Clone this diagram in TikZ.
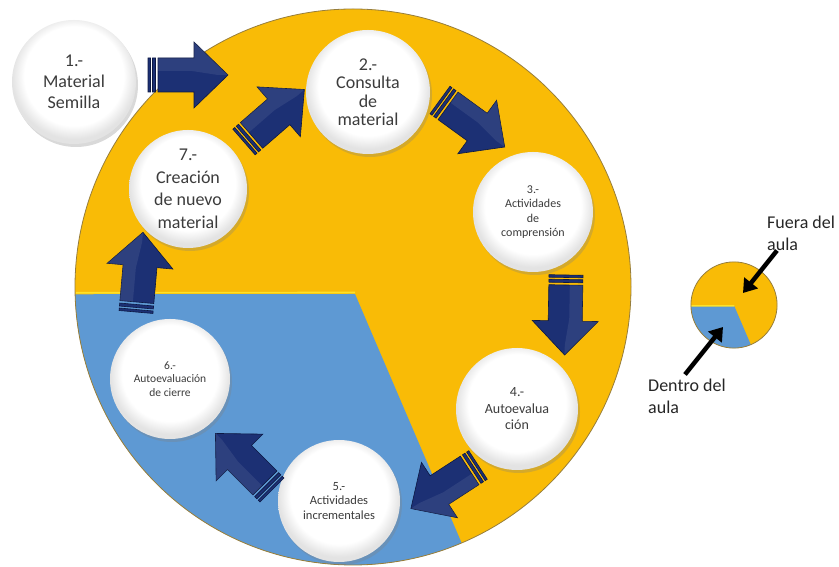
\documentclass[tikz,border=0pt]{standalone}
\usepackage{fontspec}
\setmainfont{Carlito}
\usepackage{tikz}
\usetikzlibrary{
  arrows.meta,
  shadows,
  calc
}
\definecolor{PieYellow}{RGB}{249, 187, 6}
\definecolor{PieLight}{RGB}{255, 226, 40}
\definecolor{PieBlue}{RGB}{94, 153, 211}
\definecolor{PieRim}{RGB}{150, 125, 60}
\definecolor{ArrowNavy}{RGB}{28, 48, 116}
\definecolor{ArrowEdge}{RGB}{12, 24, 66}
\definecolor{TextGray}{RGB}{60, 60, 60}
\pgfdeclareradialshading{discshade}{\pgfpoint{0bp}{4bp}}{color(0bp)=(white); color(20bp)=(white); color(25bp)=(black!11); color(50bp)=(black!11)}
\tikzset{
    stepdisc/.style={circle, shading=discshade, inner sep=0pt, align=center, text=TextGray,
        drop shadow={opacity=0.3, shadow xshift=2pt, shadow yshift=-3pt}},
    calloutlabel/.style={inner sep=0pt, align=left, text=black!85, font=\fontsize{18}{22}\selectfont},
    callout/.style={line width=4.5pt, -{Triangle[length=13pt, width=17pt]}},
    stripearrow/.pic={
        \filldraw[fill=ArrowNavy, draw=ArrowEdge, line width=0.6pt]
            (0,-17) -- (2.5,-17) -- (2.5,17) -- (0,17) -- cycle
            (4.5,-17) -- (7.5,-17) -- (7.5,17) -- (4.5,17) -- cycle
            (10,-17) -- (46,-17) -- (46,-33) -- (80,0) -- (46,33) -- (46,17) -- (10,17) -- cycle;
        \fill[white, opacity=0.08] (10,17) -- (46,17) -- (46,33) -- (80,0) -- (70,0) -- (44,4) -- (10,4) -- cycle;
    },
    aulapie/.pic={
        \fill[PieYellow] (0,0) circle[radius=278];
        \fill[PieBlue] (2,-7) -- (181.5:278) arc[start angle=181.5, end angle=293, radius=278] -- cycle;
        \draw[PieLight, line width=1.6pt] ($(181.5:278)+(1,1.5)$) -- (2,-5.5);
        \draw[PieRim, line width=0.8pt] (0,0) circle[radius=278];
    }
}

\begin{document}
\begin{tikzpicture}[x=1pt, y=1pt]
    \useasboundingbox (0,0) rectangle (839,567);

    % the two pies
    \pic at (353,280) {aulapie};
    \pic[scale=0.155] at (734,262) {aulapie};

    % steps
    \node[stepdisc, minimum size=124pt, font=\fontsize{18}{21}\selectfont] (semilla) at (74,485) {1.-\\Material\\Semilla};
    \node[stepdisc, minimum size=124pt, font=\fontsize{18}{18.5}\selectfont] (consulta) at (368,475) {2.-\\Consulta\\de\\material};
    \node[stepdisc, minimum size=120pt, font=\fontsize{12}{14.5}\selectfont] (comprension) at (533,355) {3.-\\Actividades\\de\\comprensión};
    \node[stepdisc, minimum size=122pt, font=\fontsize{14}{16.5}\selectfont] (autoeval) at (517,158) {4.-\\Autoevalua\\ción};
    \node[stepdisc, minimum size=122pt, font=\fontsize{12.5}{14.5}\selectfont] (incrementales) at (339,66) {5.-\\Actividades\\incrementales};
    \node[stepdisc, minimum size=120pt, font=\fontsize{11.5}{13.7}\selectfont] (cierre) at (170,188) {6.-\\Autoevaluación\\de cierre};
    \node[stepdisc, minimum size=118pt, font=\fontsize{18}{22.5}\selectfont] (creacion) at (188,378) {7.-\\Creación\\de nuevo\\material};

    % block arrows of the cycle
    \pic at (148,492) {stripearrow};
    \pic[rotate=41] at (244,425) {stripearrow};
    \pic[rotate=-36] at (440,467) {stripearrow};
    \pic[rotate=-91] at (566,292) {stripearrow};
    \pic[rotate=213] at (478,102) {stripearrow};
    \pic[rotate=135] at (272,77) {stripearrow};
    \pic[rotate=85] at (136,255) {stripearrow};

    % legend
    \node[calloutlabel, anchor=west] (fuera) at (767,334) {Fuera del\\aula};
    \node[calloutlabel, anchor=west] (dentro) at (648,171) {Dentro del\\aula};
    \coordinate (fueraTip) at (743,274);
    \coordinate (dentroTip) at (723,240);
    \draw[callout] (fuera.south west) ++(10,0) -- (fueraTip);
    \draw[callout] (dentro.north west) ++(37,4) -- (dentroTip);
\end{tikzpicture}
\end{document}
